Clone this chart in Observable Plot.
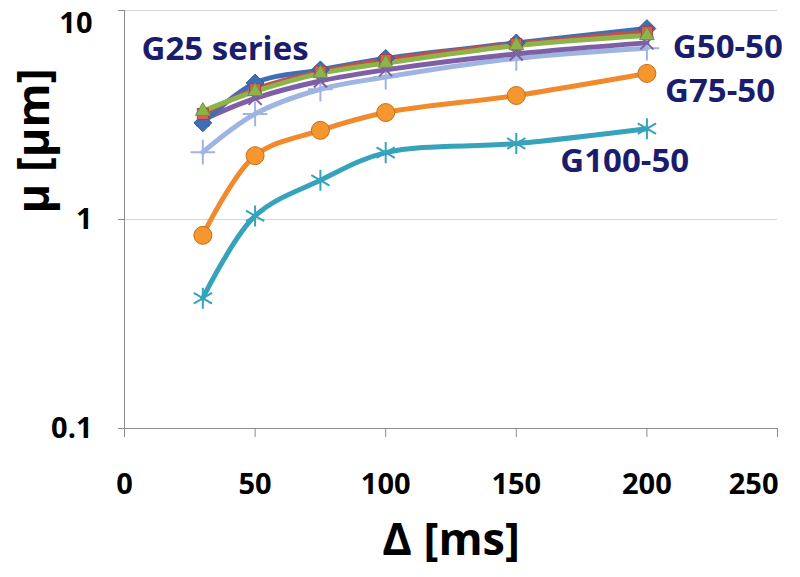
<!DOCTYPE html>
<html>
<head>
<meta charset="utf-8">
<script src="https://cdn.jsdelivr.net/npm/d3@7"></script>
<script src="https://cdn.jsdelivr.net/npm/@observablehq/plot@0.6"></script>
<style>
  html, body { margin: 0; padding: 0; background: #fff; }
  svg { display: block; }
</style>
</head>
<body>
<div id="chart"></div>
<script>
// Δ [ms]
const delta = [30, 50, 75, 100, 150, 200];
// μ [μm] per series
const g25a = [2.9, 4.5, 5.2, 5.9, 7.0, 8.2];   // blue diamonds
const g25b = [3.2, 4.2, 5.1, 5.8, 6.9, 7.9];   // red squares
const g25c = [3.3, 4.1, 5.0, 5.6, 6.8, 7.6];   // green triangles
const g25d = [3.0, 3.8, 4.6, 5.2, 6.2, 7.0];   // purple
const g50  = [2.1, 3.2, 4.2, 4.8, 5.9, 6.6];   // light blue
const g75  = [0.84, 2.02, 2.67, 3.25, 3.92, 5.0]; // orange
const g100 = [0.42, 1.04, 1.54, 2.09, 2.31, 2.72]; // teal

const xTicks = [0, 50, 100, 150, 200, 250];
const yTicks = [0.1, 1, 10];

const labelText = ["G25 series", "G50-50", "G75-50", "G100-50"];
const labelX = [38.5, 231, 228, 191.5];
const labelY = [6.5, 6.65, 4.09, 1.9];

const series = [
  {v: g50,  line: "#9DB5E0", symbol: "plus",      fill: "none",    stroke: "#9DB5E0", r: 8, sw: 2},
  {v: g25d, line: "#7E5FA6", symbol: "times",     fill: "none",    stroke: "#7E5FA6", r: 6, sw: 2},
  {v: g25a, line: "#3E6FB6", symbol: "diamond2",  fill: "#3E6FB6", stroke: "#2D5A99", r: 8, sw: 1},
  {v: g25b, line: "#C0504D", symbol: "square2",   fill: "#E05C58", stroke: "#A8403D", r: 7, sw: 1},
  {v: g25c, line: "#8DB34A", symbol: "triangle2", fill: "#8DB34A", stroke: "#6E9233", r: 7, sw: 1},
  {v: g75,  line: "#F08A2C", symbol: "circle",    fill: "#F5962F", stroke: "#C96E18", r: 9, sw: 1},
  {v: g100, line: "#37A2BC", symbol: "asterisk",  fill: "none",    stroke: "#37A2BC", r: 10, sw: 2}
];

const font = "'Open Sans', Lato, sans-serif";
const xMax = xTicks[xTicks.length - 1];
const yMax = yTicks[yTicks.length - 1];
const marks = [];

// gridlines and axis lines
marks.push(Plot.ruleY([1, 10], {stroke: "#D6D6D6", strokeWidth: 1}));
marks.push(Plot.ruleY([0.1], {stroke: "#8C8C8C", strokeWidth: 1}));
marks.push(Plot.ruleX([0], {stroke: "#8C8C8C", strokeWidth: 1}));

// axis tick marks
marks.push(Plot.axisX({ticks: xTicks, tickSize: 9, stroke: "#8C8C8C", tickFormat: () => "", label: null}));
marks.push(Plot.axisY({ticks: yTicks, tickSize: 6, stroke: "#8C8C8C", tickFormat: () => "", label: null}));

// tick labels (edge labels pulled inside the picture as in the original)
const tickText = {fontSize: 29, fontWeight: "bold", fill: "#000"};
marks.push(Plot.text(xTicks.filter(d => d < xMax), {x: d => d, text: d => String(d), frameAnchor: "bottom",
  lineAnchor: "top", dy: 45, ...tickText}));
marks.push(Plot.text([xMax], {x: d => d, text: d => String(d), frameAnchor: "bottom",
  lineAnchor: "top", dy: 45, textAnchor: "end", dx: 1, ...tickText}));
marks.push(Plot.text(yTicks.filter(d => d < yMax), {y: d => d, text: d => String(d), frameAnchor: "left",
  textAnchor: "end", dx: -32, ...tickText}));
marks.push(Plot.text([yMax], {y: d => d, text: d => String(d), frameAnchor: "left",
  textAnchor: "end", dx: -32, dy: 13, ...tickText}));

// series
for (const s of series) {
  const rows = delta.map((d, i) => ({x: d, y: s.v[i]}));
  marks.push(Plot.line(rows, {x: "x", y: "y", stroke: s.line, strokeWidth: 5, curve: "catmull-rom"}));
}
for (const s of series) {
  const rows = delta.map((d, i) => ({x: d, y: s.v[i]}));
  marks.push(Plot.dot(rows, {x: "x", y: "y", symbol: s.symbol, r: s.r, fill: s.fill,
    stroke: s.stroke, strokeWidth: s.sw}));
}

// annotations
marks.push(Plot.text(labelText, {x: (d, i) => labelX[i], y: (d, i) => labelY[i], text: d => d,
  fontSize: 33, fontWeight: "bold", fill: "#1B1D6C", textAnchor: "middle"}));

// axis titles
marks.push(Plot.text(["Δ [ms]"], {frameAnchor: "bottom", dy: 126, fontSize: 45,
  fontWeight: "bold", fill: "#000"}));
marks.push(Plot.text(["μ [μm]"], {frameAnchor: "left", dx: -90, dy: -6, rotate: -90,
  fontSize: 45, fontWeight: "bold", fill: "#000"}));

const chart = Plot.plot({
  width: 800,
  height: 577,
  marginLeft: 124,
  marginRight: 23,
  marginTop: 10,
  marginBottom: 149,
  style: {fontFamily: font, background: "#fff", overflow: "visible"},
  x: {domain: [0, 250], axis: null},
  y: {type: "log", domain: [0.1, 10], axis: null},
  marks
});
document.getElementById("chart").appendChild(chart);
</script>
</body>
</html>
